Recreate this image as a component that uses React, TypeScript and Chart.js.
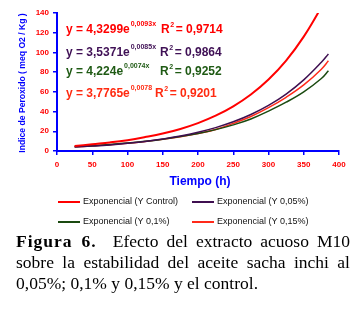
import React, { useEffect, useRef } from "react";
import { Chart, registerables } from "chart.js";
Chart.register(...registerables);

const hours = [25, 50, 75, 100, 125, 150, 175, 200, 225, 250, 275, 300, 325, 350, 375, 385];
const control = [5.0, 6.9, 8.7, 11.0, 14.1, 17.7, 22.4, 28.3, 35.8, 45.3, 57.3, 72.5, 91.7, 116, 146, 160];
const y005 = [4.0, 5.0, 6.2, 7.8, 9.7, 12.2, 15.2, 19.0, 23.7, 29.6, 37.0, 46.2, 57.7, 72.1, 90.0, 98.5];
const y01 = [4.5, 5.4, 6.6, 8.0, 9.8, 12.0, 14.6, 17.8, 21.7, 26.5, 32.5, 40.5, 49.5, 60, 73.5, 81.5];
const y015 = [4.2, 5.2, 6.4, 7.8, 9.6, 11.8, 14.5, 17.8, 21.9, 28, 35, 44, 54.5, 67, 83, 91.5];

const seriesLabels = [
  "Exponencial (Y Control)",
  "Exponencial (Y 0,05%)",
  "Exponencial (Y 0,1%)",
  "Exponencial (Y 0,15%)",
];
const seriesColors = ["#ff0000", "#3f0f50", "#1a4a10", "#ff2a1a"];
const seriesValues = [control, y005, y01, y015];

const equations = [
  { main: "y = 4,3299e", exp: "0,0093x", r2: "= 0,9714", color: "#ff0000" },
  { main: "y = 3,5371e", exp: "0,0085x", r2: "= 0,9864", color: "#3f1055" },
  { main: "y = 4,224e", exp: "0,0074x", r2: "= 0,9252", color: "#1f5a14" },
  { main: "y = 3,7765e", exp: "0,0078", r2: "= 0,9201", color: "#ff2a10" },
];

const xTitle = "Tiempo (h)";
const yTitle = "Indice de Peroxido ( meq O2 / Kg )";

const captionLabel = "Figura 6.";
const captionLines = [
  "Efecto del extracto acuoso M10",
  "sobre la estabilidad del aceite sacha inchi al",
  "0,05%; 0,1% y 0,15% y el control.",
];

const SANS = "'Liberation Sans', Arial, sans-serif";

const overlayPlugin = {
  id: "overlay",
  afterDraw(chart: any) {
    const ctx = chart.ctx;
    const ca = chart.chartArea;
    ctx.save();
    const eqY = [30, 53, 72, 94];
    const rX = [161, 160, 160, 155];
    equations.forEach((eq, i) => {
      const x0 = ca.left + 9;
      const y = eqY[i];
      ctx.fillStyle = eq.color;
      ctx.textBaseline = "middle";
      ctx.textAlign = "left";
      ctx.font = `bold 12px ${SANS}`;
      ctx.fillText(eq.main, x0, y);
      const w = ctx.measureText(eq.main).width;
      ctx.font = `bold 7px ${SANS}`;
      ctx.fillText(eq.exp, x0 + w + 1, y - 6);
      ctx.font = `bold 12px ${SANS}`;
      ctx.fillText("R", rX[i], y);
      const rw = ctx.measureText("R").width;
      ctx.font = `bold 7px ${SANS}`;
      ctx.fillText("2", rX[i] + rw + 0.5, y - 5);
      ctx.font = `bold 12px ${SANS}`;
      ctx.fillText(eq.r2, rX[i] + rw + 6, y);
    });
    ctx.fillStyle = "#0000ff";
    ctx.font = `bold 12px ${SANS}`;
    ctx.textAlign = "center";
    ctx.textBaseline = "middle";
    ctx.fillText(xTitle, 200, 182);
    ctx.save();
    ctx.translate(23, 83);
    ctx.rotate(-Math.PI / 2);
    ctx.font = `bold 8.6px ${SANS}`;
    ctx.fillText(yTitle, 0, 0);
    ctx.restore();
    const cols = [58, 192];
    const rows = [202, 222];
    chart.data.datasets.forEach((ds: any, i: number) => {
      const lx = cols[i % 2];
      const ly = rows[Math.floor(i / 2)];
      ctx.strokeStyle = ds.borderColor;
      ctx.lineWidth = 2;
      ctx.beginPath();
      ctx.moveTo(lx, ly);
      ctx.lineTo(lx + 22, ly);
      ctx.stroke();
      ctx.fillStyle = "#111";
      ctx.font = `9px ${SANS}`;
      ctx.textAlign = "left";
      ctx.textBaseline = "middle";
      ctx.fillText(ds.label, lx + 25, ly);
    });
    ctx.restore();
  },
};

function ChartCanvas() {
  const ref = useRef<HTMLCanvasElement>(null);
  useEffect(() => {
    if (!ref.current) return;
    const chart = new Chart(ref.current, {
      type: "line",
      data: {
        datasets: seriesValues.map((vals, i) => ({
          label: seriesLabels[i],
          data: hours.map((h, j) => ({ x: h, y: vals[j] })),
          borderColor: seriesColors[i],
          backgroundColor: seriesColors[i],
          borderWidth: i === 0 ? 2 : 1.5,
          pointRadius: 0,
          tension: 0.4,
          fill: false,
        })),
      },
      options: {
        animation: false,
        responsive: false,
        maintainAspectRatio: false,
        layout: { padding: { top: 13, right: 19, left: 0, bottom: 61 } },
        plugins: { legend: { display: false }, tooltip: { enabled: false } },
        scales: {
          x: {
            type: "linear",
            min: 0,
            max: 400,
            afterFit: (s: any) => { s.height = 20; },
            border: { display: true, color: "#0000ff", width: 2 },
            grid: { drawOnChartArea: false, drawTicks: true, tickLength: 4, color: "#0000ff", lineWidth: 1.5 },
            ticks: {
              stepSize: 50,
              padding: 5,
              color: "#ff0000",
              font: { family: SANS, size: 8, weight: "bold" },
              maxRotation: 0,
              autoSkip: false,
            },
          },
          y: {
            min: 0,
            max: 140,
            afterFit: (s: any) => { s.width = 57; },
            border: { display: true, color: "#0000ff", width: 2 },
            grid: { drawOnChartArea: false, drawTicks: true, tickLength: 4, color: "#0000ff", lineWidth: 1.5 },
            ticks: {
              stepSize: 20,
              padding: 4,
              color: "#ff0000",
              font: { family: SANS, size: 8, weight: "bold" },
            },
          },
        },
      },
      plugins: [overlayPlugin],
    } as any);
    return () => chart.destroy();
  }, []);
  return <canvas ref={ref} width={358} height={232} style={{ display: "block", width: 358, height: 232 }} />;
}

const lineStyle: React.CSSProperties = {
  textAlign: "justify",
  textAlignLast: "justify" as any,
  height: 21,
};

export default function App() {
  return (
    <div style={{ position: "absolute", left: 0, top: 0, width: 358, height: 311, background: "#fff", overflow: "hidden" }}>
      <ChartCanvas />
      <div
        style={{
          position: "absolute",
          left: 16,
          top: 231,
          width: 334,
          fontFamily: "'Liberation Serif', 'Times New Roman', serif",
          fontSize: 17.5,
          lineHeight: "21px",
          color: "#000",
        }}
      >
        <div style={lineStyle}>
          <b style={{ letterSpacing: 1 }}>{captionLabel}</b>&nbsp;&nbsp;{captionLines[0]}
        </div>
        <div style={lineStyle}>{captionLines[1]}</div>
        <div style={{ height: 21 }}>{captionLines[2]}</div>
      </div>
    </div>
  );
}
